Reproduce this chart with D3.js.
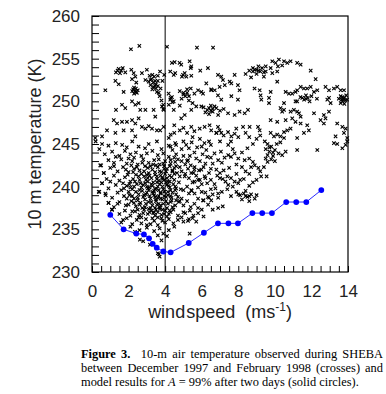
<!DOCTYPE html>
<html>
<head>
<meta charset="utf-8">
<script src="https://cdn.jsdelivr.net/npm/d3@7"></script>
<style>
body { margin: 0; background: #fff; }
#caption { position: absolute; left: 81px; top: 347px; width: 302px; white-space: nowrap;
  font-family: "Liberation Serif", "Times New Roman", serif; font-size: 12.4px; line-height: 14px; color: #000; }
#caption .j { text-align: justify; text-align-last: justify; }
</style>
</head>
<body>
<svg id="chart"></svg>
<div id="caption">
  <div class="j"><b>Figure 3.</b>&nbsp; 10-m air temperature observed during SHEBA</div>
  <div class="j">between December 1997 and February 1998 (crosses) and</div>
  <div>model results for <i>A</i> = 99% after two days (solid circles).</div>
</div>
<script>
// tick labels
var xTicks = [0, 2, 4, 6, 8, 10, 12, 14];
var yTicks = [230, 235, 240, 245, 250, 255, 260];

// model results (solid circles): wind speed, temperature
var modelWind = [1.0, 1.73, 2.42, 2.84, 3.12, 3.32, 3.54, 3.9, 4.3, 5.29, 6.12, 6.89, 7.46, 7.98, 8.77, 9.31, 9.84, 10.62, 11.17, 11.72, 12.54];
var modelTemp = [236.7, 235.0, 234.5, 234.4, 233.95, 233.3, 232.85, 232.4, 232.3, 233.4, 234.6, 235.7, 235.7, 235.7, 236.9, 236.9, 236.9, 238.2, 238.2, 238.2, 239.6];

var obsUpper = [
  [2.13,256.1],[2.59,256.5],[4.1,256.4],[5.74,256.3],[6.62,256.3],[0.73,251.3],
  [1.31,253.4],[1.46,253.8],[1.68,253.9],[1.82,253.4],[1.53,253.3],[1.28,252.4],[1.46,252.0],[1.73,251.1],
  [2.15,253.7],[2.28,253.3],[2.37,252.9],[2.19,252.6],[2.42,252.2],
  [2.25,251.4],[2.35,251.2],[2.45,251.0],[2.3,250.9],[2.5,251.3],[2.4,251.5],
  [2.73,253.3],[3.0,253.7],[2.92,252.5],
  [3.15,253.0],[3.25,252.6],[3.35,252.2],[3.45,251.8],[3.3,251.4],[3.55,251.1],[3.2,251.9],[3.4,252.9],[3.6,252.4],[3.5,251.5],[3.1,252.3],[3.65,251.0],
  [3.72,253.5],[3.6,253.0],[3.7,250.6],[3.8,250.1],[3.9,249.6],[3.75,251.5],[3.85,252.4],[3.95,253.1],[3.9,249.1],[3.83,249.4],[3.92,249.0],
  [4.37,254.5],[4.52,254.6],[4.28,253.5],[4.47,253.1],[4.55,253.3],
  [4.19,250.9],[4.37,250.5],[4.28,250.2],[4.47,250.0],[4.47,249.0],
  [1.31,249.0],[1.64,249.6],[1.82,249.2],[2.19,250.0],[2.37,249.6],[2.55,249.8],[2.64,249.0],[2.92,249.0],[3.37,249.0],[3.46,248.2],
  [1.19,247.8],[1.37,247.4],[1.64,247.6],[1.91,247.6],[2.19,247.8],[2.37,247.4],[2.55,248.0],
  [2.73,247.0],[2.92,246.8],[3.1,247.1],[3.28,246.8],[3.55,246.6],[3.73,246.6],[3.92,247.0],
  [0.82,246.6],[1.28,246.3],[1.73,246.6],[2.19,246.6],[2.37,245.9],[0.55,245.9],[0.18,245.7],
  [4.79,254.5],[4.88,254.3],[5.34,254.7],[5.43,254.1],[5.4,253.9],
  [4.98,253.1],[5.07,253.3],[4.92,252.9],[5.16,252.9],[5.43,253.0],[5.92,253.6],[6.34,253.9],
  [6.89,253.1],[7.07,252.9],[7.16,252.5],[7.26,251.9],[7.53,252.3],[7.62,252.1],[7.8,253.1],[7.98,251.9],[8.07,251.3],
  [6.98,251.7],[6.71,251.3],[6.25,252.1],[6.52,251.3],
  [8.4,253.2],[8.6,253.6],[8.8,253.9],[9.0,253.7],[9.1,254.1],[9.2,253.5],[9.3,253.9],[9.0,253.2],[8.7,252.8],[9.4,253.4],
  [9.17,251.3],[9.22,250.7],[9.26,250.2],[8.89,251.5],
  [4.8,251.2],[5.0,251.0],[5.2,251.4],[5.4,251.5],[5.1,250.6],[4.9,250.3],[5.3,250.1],[5.6,250.9],[5.8,251.3],[5.5,249.8],[4.8,249.5],
  [5.98,251.1],[6.07,250.9],[6.52,251.4],[5.43,249.0],[5.7,249.4],[5.98,249.4],
  [6.89,250.7],[7.07,250.2],[7.62,250.6],[7.98,250.2],
  [6.1,249.3],[6.3,249.0],[6.5,249.5],[6.6,248.8],[6.8,249.2],[7.0,248.9],[6.4,248.5],[6.9,248.4],[7.2,249.1],[6.2,248.7],[6.7,249.4],
  [7.44,248.6],[7.8,248.4],[8.07,248.8],[8.35,248.6],[8.53,249.0],
  [4.88,248.0],[5.07,248.4],[5.43,247.0],
  [5.89,246.8],[6.16,247.0],[6.43,247.2],[6.52,246.6],[6.8,246.3],[6.89,247.0],[6.98,246.6],[7.07,246.3],[7.44,246.4],[7.62,245.9],[7.89,246.8],[8.26,247.0],[8.62,247.0],[9.08,247.0],[9.17,246.6],
  [3.2,252.5],[3.3,253.1],[3.45,252.4],[3.5,252.0],[3.35,251.7],[3.6,251.8],[2.3,251.6],[2.4,251.1],[2.2,251.2],
  [4.3,250.4],[4.2,249.6],[4.4,249.9],[1.6,253.6],[1.4,253.6],[5.2,251.0],[5.0,250.8],[5.3,250.6],
  [6.4,249.2],[6.6,249.1],[6.5,248.9],[8.8,253.5],[8.9,253.7],[9.1,253.6]
];

var obsRight = [
  [9.86,254.7],[10.04,254.5],[10.22,254.9],[10.5,254.7],[10.68,254.5],[10.86,254.7],[11.22,254.5],[11.41,254.3],
  [9.5,254.1],[9.5,253.5],[9.4,252.9],[9.77,253.9],[9.86,253.3],[10.13,253.5],[10.17,254.1],[10.4,254.2],
  [10.13,252.3],[9.77,251.1],[9.68,249.8],[11.96,253.6],[12.23,252.6],
  [10.59,251.1],[10.77,250.9],[10.95,250.9],[11.13,251.1],[11.22,251.3],[11.41,251.7],[11.59,251.5],[11.77,251.5],[11.96,251.7],[12.14,251.1],[12.32,251.3],
  [12.77,251.7],[12.96,251.3],[13.23,251.5],[13.41,251.7],[13.6,251.3],[13.78,251.3],
  [13.5,250.3],[13.6,250.6],[13.7,250.0],[13.8,250.4],[13.9,250.7],[13.6,249.8],[13.8,249.7],[13.95,250.2],[13.7,250.5],
  [13.75,250.3],[13.85,250.1],[13.65,250.2],[11.7,250.3],[11.5,250.4],
  [11.4,250.5],[11.6,250.2],[11.8,250.4],[11.9,250.0],[11.7,250.7],[12.0,250.6],[12.3,250.3],
  [11.22,250.0],[12.87,250.2],[13.05,249.8],[12.96,250.4],[9.68,250.4],[10.5,249.8],[11.13,250.0],
  [10.31,249.2],[10.4,248.8],[10.5,249.0],[10.86,248.8],[11.04,249.0],[11.22,248.8],[11.32,248.6],
  [12.14,248.6],[12.68,248.4],[12.77,248.0],[12.96,248.8],[12.5,247.8],[12.68,247.4],
  [9.77,247.8],[10.13,247.6],[10.59,247.8],[10.95,248.0],[11.13,247.6],[11.41,247.4],[11.77,247.2],[11.41,248.2],
  [10.86,246.8],[10.68,246.6],[10.5,246.4],
  [9.77,246.3],[9.95,245.9],[10.13,246.1],[10.31,245.9],[10.5,245.7],[11.22,245.7],[11.59,246.3],[11.86,246.6],[13.32,245.9],[13.78,246.3],[13.96,245.7],
  [13.41,247.4],[13.69,247.0],[13.87,246.8],
  [9.45,245.3],[9.6,245.0],[9.8,244.7],[9.5,244.4],[9.7,244.1],[10.0,244.3],[10.2,243.9],[9.9,243.6],[10.4,243.7],[9.5,243.3],[9.6,242.9],[10.0,243.0],[10.3,245.2],[10.1,245.0],
  [9.7,244.6],[9.9,244.0],[9.6,243.7],[9.8,243.2],
  [10.59,244.1],[11.22,244.3],[12.32,244.3],[13.23,245.1],[13.41,245.0],[13.69,244.5],[13.87,244.9],[13.96,245.3]
];

var obsMiddle = [
  [6.0,244.7],[6.15,245.1],[6.4,245.3],[6.5,244.9],[6.25,244.3],[7.0,245.3],[7.45,244.9],[7.6,245.3],
  [6.7,243.9],[7.05,244.1],[7.45,243.7],[7.6,243.5],[7.8,243.9],[8.0,243.3],[8.35,243.1],[8.6,243.3],[8.8,242.9],[8.9,242.5],
  [9.1,242.2],[9.2,241.8],[8.7,242.3],[9.25,241.2],[9.0,240.8],[9.55,241.2],[9.4,242.3],
  [8.2,244.0],[8.5,244.5],[8.8,245.0],[9.0,245.6],[9.2,246.0],[8.0,245.8],[7.8,246.2],[8.4,246.3],[8.6,245.8],[7.2,246.0],[6.8,246.3],
  [5.5,245.8],[5.0,245.3],[5.2,246.3],[4.8,246.6],[4.5,247.2],[4.3,246.1],[4.2,245.7],
  [5.0,243.6],[5.2,243.0],[5.4,242.5],[5.6,242.0],[5.1,241.5],[5.3,241.0],[5.5,240.5],[5.7,241.3],[5.9,240.8],[5.2,240.0],[5.45,239.5],
  [5.8,239.9],[6.0,240.3],[6.2,241.0],[6.4,241.6],[6.1,242.3],[5.9,243.0],[6.3,243.5],[5.6,244.0],[5.3,244.5],
  [6.6,242.7],[6.8,242.0],[7.0,241.6],[7.2,241.9],[7.4,241.2],[7.6,241.0],[7.8,240.6],[8.0,240.4],[8.1,240.8],
  [6.5,240.8],[7.0,241.0],[7.3,240.6],[7.45,240.2],[7.7,240.0],
  [6.2,239.3],[6.4,238.7],[6.6,239.1],[6.1,238.4],[6.9,238.7],[6.35,237.9],[6.9,237.5],[7.15,237.7],[6.6,237.3],[6.9,239.2],
  [7.9,239.4],[8.1,239.0],[8.3,239.2],[8.5,238.8],[8.7,239.1],[8.9,238.6],[8.2,238.5],[8.6,238.3],[9.0,239.0],[8.4,239.5],
  [8.4,238.9],[8.6,238.9],[8.0,239.1],
  [5.43,239.6],[5.61,239.2],[5.8,238.6],[6.07,238.4],[6.34,238.8],[6.52,238.4],
  [5.8,240.8],[6.16,241.2],[5.43,241.6],[5.07,241.2],[5.98,242.0],[5.61,242.3],[5.25,243.1],
  [4.75,238.2],[5.0,237.8],[5.2,238.3],[5.4,237.6],[5.6,238.0],[5.8,237.5],[5.1,236.9],[5.35,237.2],[5.55,236.6],[5.8,236.9],
  [6.0,237.3],[4.9,236.4],[5.25,236.0],[5.5,236.3],[5.7,235.9],[6.1,236.5],[5.34,234.5]
];

var obsBand = [
  [4.3,244.7],[4.6,244.9],[4.9,244.4],[5.15,244.9],[5.45,245.2],[5.75,244.6],[5.9,245.6],[4.5,246.3],[5.0,246.9],[5.6,246.5],
  [4.9,243.0],[5.1,242.6],[5.35,243.6],[5.7,243.3],[6.05,243.8],[6.5,243.4],[6.9,243.1],[7.25,243.4],[6.2,242.7],[6.5,242.1],
  [4.5,242.2],[4.9,241.8],[5.25,242.1],[5.55,241.6],[5.85,241.9],[6.3,240.4],[6.7,240.3],[6.85,241.3],[7.15,240.9],[7.5,242.2],
  [4.6,239.8],[5.0,239.6],[5.3,239.2],[5.6,240.6],[6.0,239.4],[6.5,239.7],[6.75,239.8],[7.1,239.4],[7.4,239.7],[7.6,238.9],
  [7.9,242.6],[8.2,242.3],[8.4,241.8],[8.6,241.5],[7.9,241.5],[8.3,240.9],[8.6,240.1],[8.8,240.5],[7.1,242.8],[7.7,244.4]
];

var obsCore = [
  [0.2,245.3],[0.55,245.0],[0.9,244.8],[1.3,245.1],[1.65,244.9],[2.2,245.3],[2.55,244.7],[3.1,245.0],[3.55,245.3],[4.2,244.8],[4.55,245.1],[1.9,244.6],[2.9,244.5],[3.8,244.4],[4.4,244.3],[0.4,244.4],
  [0.7,243.8],[1.1,244.1],[1.5,243.6],[1.8,244.2],[2.1,243.8],[2.4,244.0],[2.7,243.6],[3.0,243.9],[3.3,244.2],[3.6,243.7],[3.9,243.9],[4.2,243.5],[4.6,243.8],[1.3,243.5],[2.3,243.4],
  [0.5,242.5],[0.9,243.1],[1.2,242.8],[1.6,243.2],[1.9,242.7],[2.2,243.0],[2.5,242.6],[2.8,243.2],[3.1,242.8],[3.4,243.1],[3.7,242.6],[4.0,243.0],[4.3,242.7],[4.7,243.2],[2.0,243.3],[3.5,242.5],
  [0.65,241.6],[1.0,242.2],[1.4,241.8],[1.7,242.3],[2.0,241.7],[2.3,242.1],[2.6,241.9],[2.9,242.4],[3.1,241.6],[3.3,242.0],[3.6,242.3],[3.8,241.7],[4.1,242.1],[4.4,241.8],[4.8,242.3],[1.2,242.4],[2.7,241.5],[3.95,242.4],
  [0.8,240.9],[1.2,241.3],[1.5,240.7],[1.8,241.1],[2.1,240.6],[2.4,241.4],[2.6,240.8],[2.85,241.2],[3.05,240.6],[3.25,241.0],[3.45,241.4],[3.65,240.7],[3.85,241.1],[4.05,240.5],[4.25,241.3],[4.5,240.8],[4.8,241.2],[3.0,241.4],[3.55,240.9],[2.25,240.9],[1.0,240.6],
  [0.55,240.4],[0.9,239.8],[1.3,240.2],[1.6,239.6],[1.9,240.1],[2.2,239.7],[2.45,240.3],[2.7,239.9],[2.9,240.4],[3.1,239.6],[3.3,240.1],[3.5,239.8],[3.7,240.3],[3.9,239.7],[4.1,240.2],[4.3,239.6],[4.55,240.0],[4.85,239.7],[3.4,239.5],[3.6,240.0],[3.8,240.5],[2.6,239.6],[3.0,240.0],
  [0.4,239.4],[0.75,239.0],[1.1,238.7],[1.4,239.3],[1.75,238.9],[2.0,239.4],[2.3,238.6],[2.55,239.1],[2.8,238.8],[3.0,239.3],[3.2,238.6],[3.4,239.0],[3.6,238.7],[3.75,239.2],[3.95,238.9],[4.15,239.4],[4.35,238.7],[4.6,239.1],[4.9,238.6],[3.3,239.4],[3.5,238.5],[3.85,238.5],[2.9,238.5],
  [0.9,238.1],[1.2,237.6],[1.5,238.2],[1.85,237.8],[2.15,238.3],[2.4,237.7],[2.65,238.1],[2.9,237.6],[3.1,238.2],[3.3,237.8],[3.5,238.3],[3.7,237.6],[3.9,238.0],[4.1,237.5],[4.3,238.2],[4.55,237.8],[4.8,238.3],[3.45,237.5],[3.65,238.0],[2.75,237.5],
  [1.1,237.3],[1.5,236.8],[1.8,237.2],[2.1,236.6],[2.35,237.1],[2.6,236.7],[2.85,237.3],[3.05,236.8],[3.25,237.2],[3.45,236.6],[3.6,237.0],[3.8,236.7],[4.0,237.2],[4.2,236.8],[4.45,237.3],[4.7,236.6],[5.0,237.0],[3.35,236.9],
  [1.6,235.8],[1.9,236.3],[2.2,235.6],[2.45,236.1],[2.7,235.7],[2.95,236.2],[3.2,235.6],[3.4,236.0],[3.6,235.5],[3.8,236.3],[4.0,235.8],[4.2,236.2],[4.45,235.7],[4.7,236.1],[5.0,235.9],[5.3,236.2],[3.0,235.5],
  [2.1,235.3],[2.6,234.9],[3.0,235.2],[3.4,234.8],[3.7,235.1],[3.9,234.5],[4.2,234.9],[4.5,235.3],[3.6,234.3],[3.8,233.7],[4.1,234.2],
  [2.62,233.8],[2.8,233.6],[3.17,233.2],[3.6,232.2],[3.7,231.8],[3.66,232.1],[1.7,236.1],[2.35,234.7],
  [3.15,239.9],[3.35,240.5],[3.55,241.2],[3.75,239.3],[3.95,240.8],[4.15,239.0],[3.25,238.2],[3.45,239.7],[3.65,238.9],[3.85,240.0],[4.05,238.3],[4.25,240.6],
  [2.95,239.1],[3.05,241.0],[2.8,240.2],[3.7,241.8],[3.9,242.7],[3.2,242.4],[3.5,237.3],[3.75,237.8],[2.5,238.4],[2.3,240.0],[2.05,239.0],[1.7,240.4],[1.4,238.0],
  [4.4,239.3],[4.6,238.4],[4.5,241.5],[4.0,241.5],[3.6,236.4],[4.3,237.0],[2.7,236.4],[3.15,237.0],
  [0.45,242.5],[0.64,241.6],[0.55,240.4],[0.73,239.2],[0.37,239.4],[0.91,238.1],[1.09,237.3],
  [4.1,241.0],[4.2,240.1],[4.3,238.9],[4.4,241.9],[4.6,242.4],[4.3,243.1],[4.5,243.4]
];

var obsDense = [
  [1.85,242.0],[2.15,242.5],[2.45,242.3],[2.75,242.8],[3.05,242.2],[3.35,242.6],[3.65,243.2],[3.95,242.1],[4.25,242.4],[4.55,242.9],
  [1.95,241.4],[2.25,241.7],[2.55,241.2],[2.85,241.8],[3.15,241.3],[3.45,241.7],[3.75,241.3],[4.05,241.8],[4.35,241.1],[4.65,241.6],
  [2.05,240.3],[2.35,240.6],[2.65,240.4],[2.95,240.8],[3.25,240.3],[3.55,240.5],[3.85,240.9],[4.15,240.6],[4.45,240.3],[4.75,240.5],
  [1.75,239.8],[2.1,239.9],[2.4,239.4],[2.75,239.5],[3.05,239.8],[3.35,239.2],[3.65,239.6],[3.95,239.4],[4.25,239.9],[4.55,239.6],
  [1.9,238.6],[2.2,238.9],[2.5,238.7],[2.85,239.0],[3.15,238.9],[3.45,238.8],[3.75,238.6],[4.05,238.8],[4.35,238.4],[4.7,238.8],
  [2.0,237.9],[2.3,238.1],[2.6,237.9],[2.95,238.0],[3.2,237.5],[3.55,237.9],[3.85,237.3],[4.15,238.0],[4.4,237.6],
  [2.2,237.1],[2.5,237.3],[2.8,236.9],[3.1,237.4],[3.4,237.0],[3.7,237.4],[3.95,236.8],[4.25,237.2],[2.55,236.4],[3.3,236.3],[3.85,236.0],[4.1,236.5]
];

var crosses = obsUpper.concat(obsRight, obsMiddle, obsBand, obsCore, obsDense);

var margin = {top: 16, right: 38, bottom: 58, left: 92};
var width = 256, height = 256;

var svg = d3.select("#chart")
    .attr("width", 386)
    .attr("height", 330)
    .style("position", "absolute")
    .style("left", 0).style("top", 0);

var g = svg.append("g")
    .attr("transform", "translate(" + margin.left + "," + margin.top + ")");

var x = d3.scaleLinear().domain([0, 14]).range([0, width]);
var y = d3.scaleLinear().domain([230, 260]).range([height, 0]);

// crosses
g.selectAll(".cross")
    .data(crosses)
    .enter().append("path")
    .attr("class", "cross")
    .attr("transform", function(d) { return "translate(" + x(d[0]) + "," + y(d[1]) + ")"; })
    .attr("d", "M-1.7,-1.7L1.7,1.7M-1.7,1.7L1.7,-1.7")
    .style("stroke", "#000")
    .style("stroke-width", 1.1)
    .style("fill", "none");

// vertical line at 4 m/s
g.append("line")
    .attr("x1", x(4)).attr("x2", x(4))
    .attr("y1", 0).attr("y2", height)
    .style("stroke", "#000").style("stroke-width", 1);

// model line and circles
var model = modelWind.map(function(w, i) { return [w, modelTemp[i]]; });
var line = d3.line()
    .x(function(d) { return x(d[0]); })
    .y(function(d) { return y(d[1]); });

g.append("path")
    .datum(model)
    .attr("d", line)
    .style("fill", "none")
    .style("stroke", "#2a2aff")
    .style("stroke-width", 1);

g.selectAll(".dot")
    .data(model)
    .enter().append("circle")
    .attr("class", "dot")
    .attr("cx", function(d) { return x(d[0]); })
    .attr("cy", function(d) { return y(d[1]); })
    .attr("r", 2.9)
    .style("fill", "#0000ff");

// axes with inward ticks
var yAxis = g.append("g")
    .call(d3.axisLeft(y)
        .tickValues(d3.range(230, 261, 1))
        .tickSize(-7)
        .tickPadding(12)
        .tickFormat(function(d) { return yTicks.indexOf(d) >= 0 ? d : ""; }));

var xAxis = g.append("g")
    .attr("transform", "translate(0," + height + ")")
    .call(d3.axisBottom(x)
        .tickValues(d3.range(0, 14.01, 0.5))
        .tickSize(-6)
        .tickPadding(13)
        .tickFormat(function(d) { return xTicks.indexOf(d) >= 0 ? d : ""; }));

[yAxis, xAxis].forEach(function(a) {
    a.select(".domain").remove();
    a.selectAll("line").style("stroke", "#000");
    a.selectAll("text")
        .style("font-family", "'Liberation Sans', Arial, sans-serif")
        .style("font-size", "17px")
        .style("fill", "#222");
});

// frame
g.append("rect")
    .attr("width", width).attr("height", height)
    .style("fill", "none").style("stroke", "#000").style("stroke-width", 1.2);

// axis titles
var xt = svg.append("text")
    .attr("x", margin.left + width / 2)
    .attr("y", 318)
    .attr("text-anchor", "middle")
    .style("font-family", "'Liberation Sans', Arial, sans-serif")
    .style("font-size", "18px")
    .style("fill", "#222");
xt.append("tspan").text("wind");
xt.append("tspan").attr("dx", 1).text("speed");
xt.append("tspan").attr("dx", 10).text("(ms");
xt.append("tspan").attr("dy", -7).style("font-size", "12px").text("-1");
xt.append("tspan").attr("dy", 7).text(")");

svg.append("text")
    .attr("transform", "translate(41," + (margin.top + height / 2) + ") rotate(-90)")
    .attr("text-anchor", "middle")
    .style("font-family", "'Liberation Sans', Arial, sans-serif")
    .style("font-size", "18px")
    .style("fill", "#222")
    .text("10 m temperature (K)");
</script>
</body>
</html>
